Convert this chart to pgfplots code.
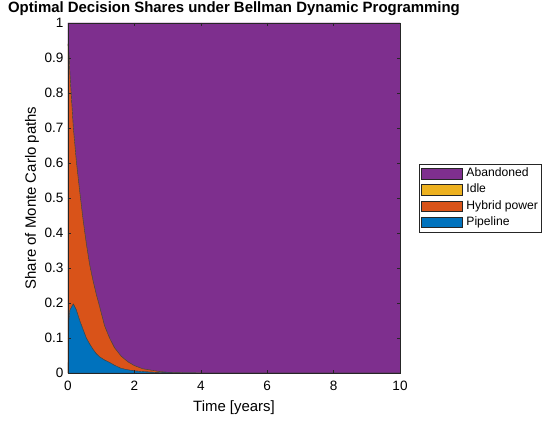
\documentclass[border=0pt]{standalone}
\usepackage{pgfplots}
\pgfplotsset{compat=1.18}
\usepackage{pgfplotstable}
\usepackage{fontspec}
\setmainfont{Liberation Sans}
\definecolor{mblue}{rgb}{0,0.447,0.741}
\definecolor{morange}{rgb}{0.85,0.325,0.098}
\definecolor{myellow}{rgb}{0.929,0.694,0.125}
\definecolor{mpurple}{rgb}{0.494,0.184,0.556}
\definecolor{axgray}{rgb}{0.15,0.15,0.15}
\pgfplotstableread{
t     p       h        i   a
0     0       0.94     0   0.06
0.03  0.15    0.76     0   0.09
0.06  0.18    0.67     0   0.15
0.16  0.197   0.503    0   0.30
0.25  0.18    0.425    0   0.395
0.35  0.15    0.37     0   0.48
0.45  0.125   0.315    0   0.56
0.55  0.10    0.27     0   0.63
0.65  0.083   0.227    0   0.69
0.75  0.068   0.197    0   0.735
0.85  0.055   0.170    0   0.775
0.95  0.046   0.144    0   0.81
1.1   0.037   0.098    0   0.865
1.25  0.030   0.070    0   0.90
1.4   0.022   0.050    0   0.928
1.6   0.013   0.035    0   0.952
1.8   0.009   0.023    0   0.968
2.0   0.006   0.015    0   0.979
2.25  0.004   0.008    0   0.988
2.5   0.0025  0.0055   0   0.992
2.75  0.0015  0.0025   0   0.996
3.0   0.0007  0.0013   0   0.998
3.5   0.0001  0.0004   0   0.9995
4     0       0        0   1
10    0       0        0   1
}\data
\begin{document}
\begin{tikzpicture}
\useasboundingbox (-68bp,-49bp) rectangle (482bp,373bp);
\begin{axis}[
  scale only axis, width=332bp, height=350bp,
  at={(0,0)}, anchor=south west,
  xmin=0, xmax=10, ymin=0, ymax=1,
  xtick={0,2,...,10},
  ytick={0,0.1,...,1},
  yticklabels={0,0.1,0.2,0.3,0.4,0.5,0.6,0.7,0.8,0.9,1},
  tick align=inside, tick pos=both,
  major tick length=3.5bp,
  axis line style={axgray, line width=0.5pt},
  every tick/.style={axgray, line width=0.5pt},
  tick label style={font=\fontsize{13.6}{15}\selectfont, text=black},
  yticklabel style={xshift=-1bp},
  xticklabel style={yshift=-5bp},
  /pgf/number format/assume math mode=true,
  xlabel={Time [years]},
  ylabel={Share of Monte Carlo paths},
  label style={font=\fontsize{15}{17}\selectfont},
  xlabel style={at={(axis description cs:0.5,0)}, anchor=center, yshift=-35bp},
  ylabel style={at={(axis description cs:0,0.5)}, anchor=center, yshift=36bp},
  title={\textbf{Optimal Decision Shares under Bellman Dynamic Programming}},
  title style={font=\fontsize{15}{17}\selectfont, at={(axis description cs:0.5,1)}, anchor=base, yshift=5bp},
  stack plots=y,
  axis on top,
  legend cell align=left,
  reverse legend,
  legend style={at={(1,0.5)}, anchor=west, xshift=19bp,
    font=\fontsize{12.2}{14}\selectfont, draw=axgray, line width=0.5pt,
    row sep=0pt, inner xsep=1.5bp, inner ysep=1.5bp,
    nodes={text height=9bp, text depth=3bp, inner ysep=2.1bp, inner xsep=1.7bp}},
  legend image code/.code={\draw[#1, draw=axgray, line width=0.5pt] (0bp,-5.3bp) rectangle (41bp,5.3bp); \path (43.5bp,0);},
]
\addplot[fill=mblue, draw=black!75, line width=0.4pt] table[x=t,y=p]{\data} \closedcycle;
\addlegendentry{Pipeline}
\addplot[fill=morange, draw=black!75, line width=0.4pt] table[x=t,y=h]{\data} \closedcycle;
\addlegendentry{Hybrid power}
\addplot[fill=myellow, draw=black!75, line width=0.4pt] table[x=t,y=i]{\data} \closedcycle;
\addlegendentry{Idle}
\addplot[fill=mpurple, draw=mpurple, line width=0.4pt] table[x=t,y=a]{\data} \closedcycle;
\addlegendentry{Abandoned}
\end{axis}
\end{tikzpicture}
\end{document}
